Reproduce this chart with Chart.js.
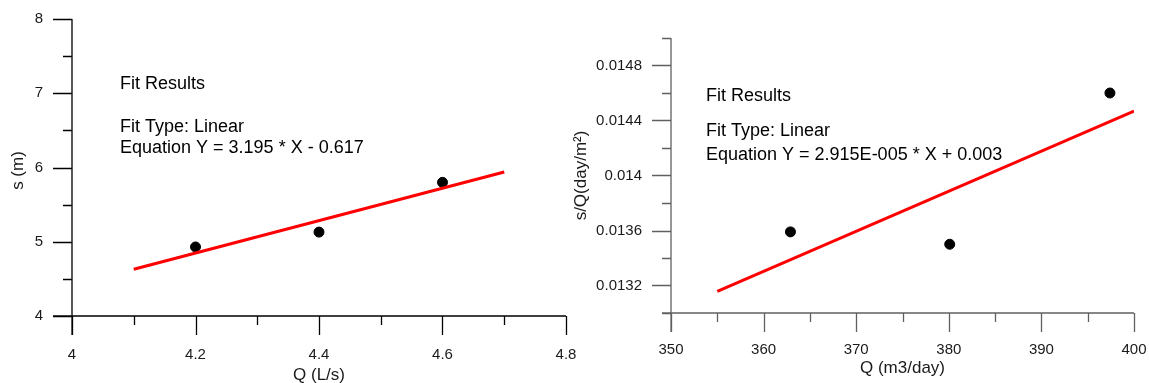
<!DOCTYPE html>
<html>
<head>
<meta charset="utf-8">
<script src="https://cdn.jsdelivr.net/npm/chart.js@4"></script>
<style>
  body { margin: 0; background: #fff; }
  #wrap { position: relative; width: 1149px; height: 383px; }
  canvas { position: absolute; top: 0; }
</style>
</head>
<body>
<div id="wrap">
  <canvas id="leftChart" width="580" height="383" style="left:0"></canvas>
  <canvas id="rightChart" width="589" height="383" style="left:560px"></canvas>
</div>
<script>
// left plot: drawdown vs discharge
const leftQ = [4.2, 4.4, 4.6];
const leftS = [4.93, 5.13, 5.80];
const leftFitX = [4.1, 4.7];
const leftFitY = [4.63, 5.94];
const leftXTicks = [4, 4.2, 4.4, 4.6, 4.8];
const leftXMinor = [4.1, 4.3, 4.5, 4.7];
const leftYTicks = [4, 5, 6, 7, 8];
const leftYMinor = [4.5, 5.5, 6.5, 7.5];

// right plot: specific drawdown vs discharge
const rightQ = [362.9, 380.1, 397.4];
const rightSQ = [0.01359, 0.01350, 0.01460];
const rightFitX = [355, 400];
const rightFitY = [0.013157, 0.014469];
const rightXTicks = [350, 360, 370, 380, 390, 400];
const rightXMinor = [355, 365, 375, 385, 395];
const rightYTicks = [0.0132, 0.0136, 0.014, 0.0144, 0.0148];
const rightYMinor = [0.013, 0.0134, 0.0138, 0.0142, 0.0146, 0.015];

const FONT = '"Liberation Sans", Arial, sans-serif';

// draws the Grapher-style axes, ticks, labels and the fit text box
const axesPlugin = {
    id: 'axesPlugin',
    afterDraw(chart) {
        const o = chart.options.plugins.axesPlugin;
        const ctx = chart.ctx;
        const xs = chart.scales.x, ys = chart.scales.y;
        const a = chart.chartArea;
        const major = 19, minor = 9;

        ctx.save();
        ctx.strokeStyle = o.axisColor;
        ctx.lineWidth = 1.3;
        ctx.beginPath();
        // axis lines
        ctx.moveTo(a.left, a.top);
        ctx.lineTo(a.left, a.bottom + major);
        ctx.moveTo(a.left - (o.yAxisExtend), a.bottom);
        ctx.lineTo(a.right, a.bottom);
        o.xTicks.forEach(v => {
            const px = Math.round(xs.getPixelForValue(v)) + 0.5;
            ctx.moveTo(px, a.bottom); ctx.lineTo(px, a.bottom + major);
        });
        o.xMinor.forEach(v => {
            const px = Math.round(xs.getPixelForValue(v)) + 0.5;
            ctx.moveTo(px, a.bottom); ctx.lineTo(px, a.bottom + minor);
        });
        o.yTicks.forEach(v => {
            const py = Math.round(ys.getPixelForValue(v)) + 0.5;
            ctx.moveTo(a.left - major, py); ctx.lineTo(a.left, py);
        });
        o.yMinor.forEach(v => {
            const py = Math.round(ys.getPixelForValue(v)) + 0.5;
            ctx.moveTo(a.left - minor, py); ctx.lineTo(a.left, py);
        });
        ctx.stroke();

        // tick labels
        ctx.fillStyle = '#1a1a1a';
        ctx.font = '15px ' + FONT;
        ctx.textAlign = 'center';
        ctx.textBaseline = 'middle';
        o.xTicks.forEach(v => {
            ctx.fillText(String(v), xs.getPixelForValue(v), a.bottom + o.xLabelOffset);
        });
        ctx.textAlign = 'right';
        o.yTicks.forEach(v => {
            ctx.fillText(String(v), a.left - 29, ys.getPixelForValue(v));
        });

        // axis titles
        ctx.font = '17px ' + FONT;
        ctx.textAlign = 'center';
        ctx.fillText(o.xTitle, (a.left + a.right) / 2, a.bottom + o.xTitleOffset);
        ctx.save();
        ctx.translate(o.yTitleX, (a.top + a.bottom) / 2 + o.yTitleShift);
        ctx.rotate(-Math.PI / 2);
        ctx.fillText(o.yTitle, 0, 0);
        ctx.restore();

        // fit results note
        ctx.font = '18px ' + FONT;
        ctx.textAlign = 'left';
        ctx.fillStyle = '#000';
        o.note.forEach((line, i) => {
            ctx.fillText(line, o.noteX, o.noteY[i]);
        });
        ctx.restore();
    }
};

function makeChart(id, q, s, fitX, fitY, xRange, yRange, padding, axes) {
    const ctx = document.getElementById(id).getContext('2d');
    return new Chart(ctx, {
        type: 'scatter',
        data: {
            datasets: [{
                type: 'line',
                data: fitX.map((x, i) => ({x: x, y: fitY[i]})),
                borderColor: '#ff0000',
                borderWidth: 3,
                pointRadius: 0,
                fill: false
            }, {
                data: q.map((x, i) => ({x: x, y: s[i]})),
                backgroundColor: '#000',
                borderColor: '#000',
                pointRadius: 5,
                pointHoverRadius: 5
            }]
        },
        options: {
            responsive: false,
            animation: false,
            layout: { padding: padding },
            scales: {
                x: { type: 'linear', min: xRange[0], max: xRange[1], display: false },
                y: { type: 'linear', min: yRange[0], max: yRange[1], display: false }
            },
            plugins: {
                legend: { display: false },
                tooltip: { enabled: false },
                axesPlugin: axes
            }
        },
        plugins: [axesPlugin]
    });
}

makeChart('leftChart', leftQ, leftS, leftFitX, leftFitY, [4, 4.8], [4, 8],
    { left: 72, right: 14, top: 19, bottom: 67 },
    {
        axisColor: '#000',
        xTicks: leftXTicks, xMinor: leftXMinor,
        yTicks: leftYTicks, yMinor: leftYMinor,
        yAxisExtend: 19,
        xLabelOffset: 39, xTitleOffset: 59,
        xTitle: 'Q (L/s)', yTitle: 's (m)', yTitleX: 18, yTitleShift: 3,
        note: ['Fit Results', 'Fit Type: Linear', 'Equation Y = 3.195 * X - 0.617'],
        noteX: 120, noteY: [84, 127, 148]
    });

makeChart('rightChart', rightQ, rightSQ, rightFitX, rightFitY, [350, 400], [0.013, 0.015],
    { left: 111, right: 15, top: 38, bottom: 70 },
    {
        axisColor: '#606060',
        xTicks: rightXTicks, xMinor: rightXMinor,
        yTicks: rightYTicks, yMinor: rightYMinor,
        yAxisExtend: 9,
        xLabelOffset: 37, xTitleOffset: 55,
        xTitle: 'Q (m3/day)', yTitle: 's/Q(day/m²)', yTitleX: 21, yTitleShift: 0,
        note: ['Fit Results', 'Fit Type: Linear', 'Equation Y = 2.915E-005 * X + 0.003'],
        noteX: 146, noteY: [96, 131, 155]
    });
</script>
</body>
</html>
